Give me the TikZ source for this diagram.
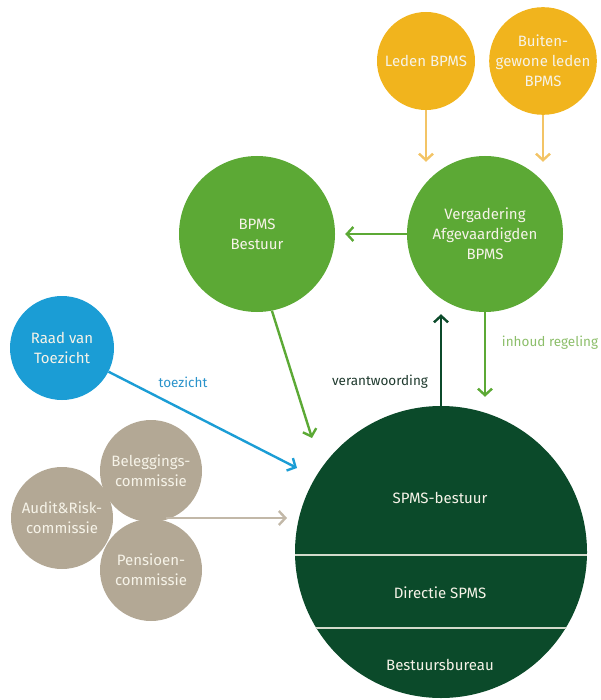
\documentclass[tikz,border=0pt]{standalone}
\usepackage{fontspec}
\setmainfont{Fira Sans}
\usetikzlibrary{arrows.meta,calc}
\definecolor{dkgreen}{HTML}{0B4A2A}
\definecolor{mdgreen}{HTML}{5CA935}
\definecolor{ylw}{HTML}{F1B41D}
\definecolor{ylwarr}{HTML}{F3C466}
\definecolor{blu}{HTML}{1B9DD5}
\definecolor{beige}{HTML}{B3A895}
\definecolor{beigearr}{HTML}{C2B8A8}
\definecolor{txtc}{HTML}{F6F3E8}
\definecolor{lbldark}{HTML}{1F3A2E}
\definecolor{lblgreen}{HTML}{8CBE6A}
\definecolor{lblblue}{HTML}{2A93CB}
\begin{document}
\begin{tikzpicture}[x=1pt,y=-1pt,
  ball/.style={circle, inner sep=0pt, text=txtc, align=center,
    font=\fontsize{15}{20}\selectfont},
  lbl/.style={font=\fontsize{13.5}{16}\selectfont, inner sep=0pt},
  arr/.style={line width=2.4pt, -{Straight Barb[length=6.5pt,width=14pt,line width=2.4pt]}}]
\useasboundingbox (0,0) rectangle (600,700);

% circles
\node[ball, fill=ylw, minimum size=98] (leden) at (426,61) {Leden BPMS};
\node[ball, fill=ylw, minimum size=100] (buiten) at (543,61) {Buiten-\\gewone leden\\BPMS};
\node[ball, fill=mdgreen, minimum size=156] (bpms) at (257,234) {BPMS\\Bestuur};
\node[ball, fill=mdgreen, minimum size=156] (verg) at (485,234) {Vergadering\\Afgevaardigden\\BPMS};
\node[ball, fill=blu, minimum size=104] (raad) at (62,348) {Raad van\\Toezicht};
\node[ball, fill=beige, minimum size=102] (beleg) at (151,471) {Beleggings-\\commissie};
\node[ball, fill=beige, minimum size=102] (pens) at (151,570) {Pensioen-\\commissie};
\node[ball, fill=beige, minimum size=102] (audit) at (62,518) {Audit\&Risk-\\commissie};
\node[circle, fill=dkgreen, minimum size=292, inner sep=0pt] (big) at (441,552) {};
\begin{scope}
  \clip (big.center) circle (146);
  \draw[line width=2.2pt, draw=txtc!85!dkgreen] ($(big.center)+(-150,3)$) -- ($(big.center)+(150,3)$);
  \draw[line width=2.2pt, draw=txtc!85!dkgreen] ($(big.center)+(-150,76)$) -- ($(big.center)+(150,76)$);
\end{scope}
\node[ball] (spmsb) at (440,498) {SPMS-bestuur};
\node[ball] (dir) at (440,593) {Directie SPMS};
\node[ball] (bb) at (440,665) {Bestuursbureau};

% free ends
\coordinate (bpmstip) at (312,438);
\coordinate (raadtip) at (297,468);
\coordinate (commstart) at (166,518);
\coordinate (commtip) at (287,518);

% connectors
\draw[arr, ylwarr] (leden.south) -- ([yshift=-6]leden.south |- verg.north);
\draw[arr, ylwarr] (buiten.south) -- ([yshift=-6]buiten.south |- verg.north);
\draw[arr, mdgreen, shorten >=10pt] (verg.west) -- (bpms.east);
\draw[arr, mdgreen] (bpms.-79) -- (bpmstip);
\draw[arr, blu] (raad.-27) -- (raadtip);
\draw[arr, beigearr] (commstart) -- (commtip);
\draw[arr, dkgreen, shorten >=2pt] (big.north) -- (big.north |- verg.south);
\draw[arr, mdgreen, shorten >=9pt] (verg.south) -- (verg.south |- big.north);

% labels
\node[lbl, text=lblblue] (ltoez) at (183,382) {toezicht};
\node[lbl, text=lbldark] (lverant) at (380,382) {verantwoording};
\node[lbl, text=lblgreen] (linhoud) at (550,343) {inhoud regeling};
\end{tikzpicture}
\end{document}
